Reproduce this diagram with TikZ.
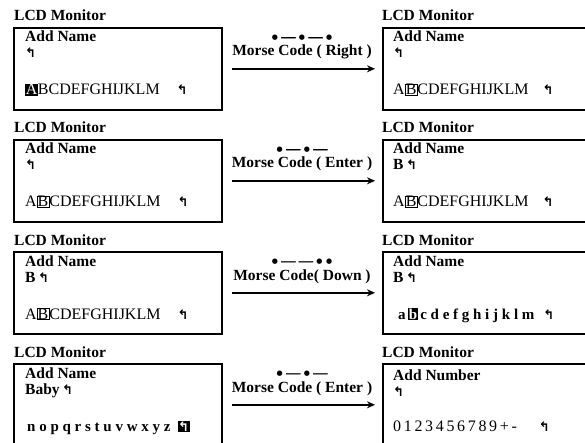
\documentclass[tikz,border=0pt]{standalone}
\usepackage{fontspec}
\setmainfont{Liberation Serif}
\newfontfamily\symfont{DejaVu Sans}
\usetikzlibrary{arrows.meta}
\newcommand\retg{{\symfont\bfseries\fontsize{13}{14}\selectfont ↰}}
\newcommand\invc[1]{{\setlength\fboxsep{0.6pt}\colorbox{black}{\textcolor{white}{#1}}}}
\newcommand\boxc[1]{{\setlength\fboxsep{0.2pt}\setlength\fboxrule{0.8pt}\fbox{#1}}}
\newcommand\mdot{\raisebox{1.2pt}{\symfont\fontsize{7}{8}\selectfont ●}}
\newcommand\mdash{—}
\newcommand\mg{\hspace{3.5pt}}
\begin{document}
\begin{tikzpicture}[x=1pt,y=-1pt,
  font=\fontsize{15}{18}\selectfont,
  lcd/.style={draw, line width=1.6pt, minimum width=208pt, minimum height=82pt, inner sep=0pt, anchor=north west},
  ttl/.style={anchor=base west, inner sep=0pt, font=\fontsize{15.5}{18}\selectfont\bfseries},
  txt/.style={anchor=base west, inner sep=0pt, font=\fontsize{15.5}{18}\selectfont\bfseries},
  row/.style={anchor=base west, inner sep=0pt, font=\fontsize{16}{18}\selectfont},
  brow/.style={anchor=base west, inner sep=0pt, font=\fontsize{15}{18}\selectfont\bfseries},
  conn/.style={-{Stealth[length=8pt,width=7pt]}, line width=1.6pt, shorten <=9pt, shorten >=7pt},
  morse/.style={anchor=base, inner sep=0pt, font=\fontsize{15.5}{18}\selectfont\bfseries},
  dots/.style={anchor=base, inner sep=0pt, font=\fontsize{14}{18}\selectfont\bfseries\addfontfeatures{FakeBold=2}}]
\useasboundingbox (0,0) rectangle (585,443);
\clip (0,0) rectangle (585,443);
\foreach \i in {0,1,2,3}{
  \node[lcd] (L\i) at (13,27+112*\i) {};
  \node[lcd] (R\i) at (382,27+112*\i) {};
  \node[ttl] (TL\i) at (14,21+112*\i) {LCD Monitor};
  \node[ttl] (TR\i) at (382,21+112*\i) {LCD Monitor};
}
% row 1
\node[txt] (l0a) at (25,42) {Add Name};
\node[txt] (l0b) at (25,58) {\retg};
\node[row] (l0c) at (25,95) {\invc{A}BCDEFGHIJKLM\hspace{17pt}\retg};
\node[dots] (d0) at (302,41) {\mdot\mg\mdash\mg\mdot\mg\mdash\mg\mdot};
\node[morse] (c0) at (302,56) {Morse Code ( Right )};
\draw[conn] (L0) -- (R0);
\node[txt] (r0a) at (393,42) {Add Name};
\node[txt] (r0b) at (393,58) {\retg};
\node[row] (r0c) at (393,95) {A\boxc{B}CDEFGHIJKLM\hspace{14pt}\retg};
% row 2
\node[txt] (l1a) at (25,154) {Add Name};
\node[txt] (l1b) at (25,170) {\retg};
\node[row] (l1c) at (25,207) {A\boxc{B}CDEFGHIJKLM\hspace{17pt}\retg};
\node[dots] (d1) at (302,153) {\mdot\mg\mdash\mg\mdot\mg\mdash};
\node[morse] (c1) at (302,168) {Morse Code ( Enter )};
\draw[conn] (L1) -- (R1);
\node[txt] (r1a) at (393,154) {Add Name};
\node[txt] (r1b) at (393,170) {B\,\retg};
\node[row] (r1c) at (393,207) {A\boxc{B}CDEFGHIJKLM\hspace{14pt}\retg};
% row 3
\node[txt] (l2a) at (25,266) {Add Name};
\node[txt] (l2b) at (25,282) {B\,\retg};
\node[row] (l2c) at (25,319) {A\boxc{B}CDEFGHIJKLM\hspace{17pt}\retg};
\node[dots] (d2) at (302,265) {\mdot\mg\mdash\mg\mdash\mg\mdot\mg\mdot};
\node[morse] (c2) at (302,280) {Morse Code( Down )};
\draw[conn] (L2) -- (R2);
\node[txt] (r2a) at (393,266) {Add Name};
\node[txt] (r2b) at (393,282) {B\,\retg};
\node[brow] (r2c) at (398,319) {a\,\invc{b}\,c d e f g h i j k l m\hspace{9pt}\retg};
% row 4
\node[txt] (l3a) at (25,378) {Add Name};
\node[txt] (l3b) at (25,394) {Baby\,\retg};
\node[brow] (l3c) at (27,431) {n o p q r s t u v w x y z\hspace{7pt}\invc{\retg}};
\node[dots] (d3) at (302,377) {\mdot\mg\mdash\mg\mdot\mg\mdash};
\node[morse] (c3) at (302,392) {Morse Code ( Enter )};
\draw[conn] (L3) -- (R3);
\node[txt] (r3a) at (393,380) {Add Number};
\node[txt] (r3b) at (393,396) {\retg};
\node[row] (r3c) at (393,431) {0\,1\,2\,3\,4\,5\,6\,7\,8\,9\,+\,-\hspace{22pt}\retg};
\end{tikzpicture}
\end{document}
